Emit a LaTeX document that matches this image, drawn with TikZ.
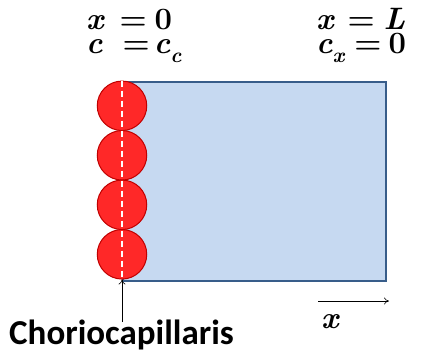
\documentclass[tikz,border=0pt]{standalone}
\usepackage{fontspec}
\setsansfont{Carlito}
\usetikzlibrary{arrows.meta, positioning}
\definecolor{tissueblue}{RGB}{198, 217, 241}
\definecolor{tissueedge}{RGB}{56, 93, 138}
\definecolor{cellred}{RGB}{255, 40, 40}
\definecolor{celledge}{RGB}{192, 0, 0}
\newcommand\mv[1]{{\bfseries\itshape #1}}
\newcommand\msub[1]{\raisebox{-0.3em}{\fontsize{21}{22}\selectfont\mv{#1}}}

\begin{document}
\begin{tikzpicture}[
  x=1pt, y=-1pt,
  cell/.style={
    circle, draw=celledge, fill=cellred, line width=1pt,
    minimum size=49.5pt, inner sep=0pt
  },
  eqn/.style={font=\fontsize{31}{24}\selectfont\bfseries, inner sep=0pt},
  arrow/.style={-{To[length=5pt, width=7pt]}, line width=0.6pt}
]
  \useasboundingbox (0,0) rectangle (431,354);

  % tissue slab
  \node[draw=tissueedge, fill=tissueblue, line width=1.5pt, minimum width=263pt,
        minimum height=199pt, inner sep=0pt, anchor=north west] (slab) at (122,81) {};

  % capillary cells
  \foreach \i in {0,...,3}
    \node[cell] (c\i) at (122,{105.8+49.5*\i}) {};
  \draw[white, line width=1.3pt, dash pattern=on 6pt off 4pt] (c0.north) -- (c3.south);

  % boundary conditions
  \node[eqn, align=left, anchor=north west] (left) at (86,9)
    {\mv{x}\hspace{16pt}=\hspace{8pt}0\\
     \mv{c}\hspace{20pt}=\hspace{4pt}\mv{c}\msub{c}};
  \node[eqn, align=left, anchor=north west] (right) at (316,8)
    {\mv{x}\hspace{14pt}=\hspace{9pt}\mv{L}\\
     \mv{c}\msub{x}\hspace{10pt}=\hspace{7pt}0};

  % label
  \node[font=\sffamily\bfseries\fontsize{35}{40}\selectfont, inner sep=0pt,
        anchor=base west] (chorio) at (9,344) {Choriocapillaris};
  \draw[arrow] (chorio.north -| c3.south) ++(0,3) coordinate (tail) (tail) -- (c3.south);

  % axis direction
  \coordinate (ax0) at (318,301);
  \coordinate (ax1) at (389,301);
  \draw[arrow] (ax0) -- (ax1);
  \node[eqn, anchor=base west] (xlab) at (321,328) {\mv{x}};
\end{tikzpicture}
\end{document}
